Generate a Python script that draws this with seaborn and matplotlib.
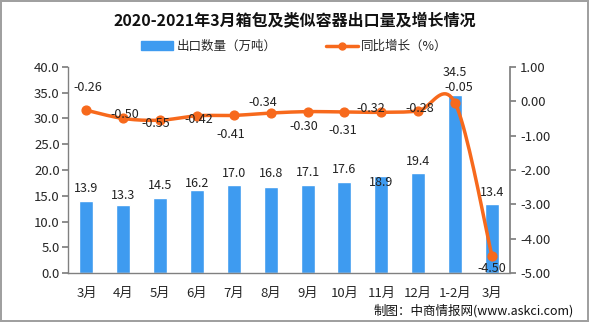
import numpy as np
import pandas as pd
import matplotlib
matplotlib.use("Agg")
import matplotlib.pyplot as plt
import seaborn as sns
from matplotlib.lines import Line2D
from matplotlib.patches import Patch

categories = ["3月", "4月", "5月", "6月", "7月", "8月", "9月", "10月", "11月", "12月", "1-2月", "3月"]
export_volume = [13.9, 13.3, 14.5, 16.2, 17.0, 16.8, 17.1, 17.6, 18.9, 19.4, 34.5, 13.4]
yoy_growth = [-0.26, -0.50, -0.55, -0.42, -0.41, -0.34, -0.30, -0.31, -0.32, -0.28, -0.05, -4.50]

sns.set_theme(style="white")
plt.rcParams['font.family'] = ['Noto Sans CJK SC', 'DejaVu Sans']

fig = plt.figure(figsize=(5.89, 3.22), dpi=100)
fig.patch.set_edgecolor("#a0a0a0")
fig.patch.set_linewidth(1.5)
ax = fig.add_axes([0.1155, 0.152, 0.751, 0.640])

x = np.arange(len(categories))
df = pd.DataFrame({"pos": x, "val": export_volume})
sns.barplot(data=df, x="pos", y="val", color="#3e9bf0", saturation=1, width=0.38, ax=ax, native_scale=True)
ax.set_xlim(-0.5, len(categories) - 0.5)
ax.set_ylim(0, 40)
ax.set_yticks(np.arange(0, 40.1, 5))
ax.set_yticklabels([f"{v:.1f}" for v in np.arange(0, 40.1, 5)], fontsize=9.5)
ax.set_xticks(x)
ax.set_xticklabels(categories, fontsize=9.5)
ax.set_xticks(np.arange(-0.5, len(categories), 1), minor=True)
ax.tick_params(axis="x", which="major", length=0, pad=10)
ax.tick_params(axis="x", which="minor", length=4, color="#808080", direction="out")
ax.tick_params(axis="y", length=4, color="#808080", direction="out", left=True, pad=2)
ax.set_xlabel("")
ax.set_ylabel("")
for s in ["top", "right"]:
    ax.spines[s].set_visible(False)
for s in ["left", "bottom"]:
    ax.spines[s].set_color("#808080")
    ax.spines[s].set_linewidth(1)

# bar value labels (offset in pixels above bar top)
bar_off_px = [13, 9, 13, 6, 12, 13, 12, 13, -7, 12, 23, 12]
for xi, v, off in zip(x, export_volume, bar_off_px):
    ax.annotate(f"{v:.1f}", (xi, v), xytext=(0, off * 0.72), textcoords="offset points",
                ha="center", va="center", fontsize=9, color="#222222", zorder=6)

ax2 = ax.twinx()
ax2.set_ylim(-5, 1)
yt = np.arange(-5, 1.01, 1)
ax2.set_yticks(yt)
ax2.set_yticklabels([f"{v:.2f}" for v in yt], fontsize=9.5)
ax2.tick_params(axis="y", length=4, color="#808080", direction="out", right=True, pad=3)
for s in ["top", "left", "bottom"]:
    ax2.spines[s].set_visible(False)
ax2.spines["right"].set_color("#808080")

# smooth curve (Catmull-Rom through data points)
xs, ys = [], []
pts = list(zip(x, yoy_growth))
for i in range(len(pts) - 1):
    p0 = pts[i - 1] if i > 0 else pts[i]
    p1 = pts[i]
    p2 = pts[i + 1]
    p3 = pts[i + 2] if i + 2 < len(pts) else pts[i + 1]
    for t in np.linspace(0, 1, 20, endpoint=False):
        t2, t3 = t * t, t * t * t
        for k, arr in ((0, xs), (1, ys)):
            a = 0.5 * ((2 * p1[k]) + (-p0[k] + p2[k]) * t +
                       (2 * p0[k] - 5 * p1[k] + 4 * p2[k] - p3[k]) * t2 +
                       (-p0[k] + 3 * p1[k] - 3 * p2[k] + p3[k]) * t3)
            arr.append(a)
xs.append(pts[-1][0]); ys.append(pts[-1][1])
sns.lineplot(x=xs, y=ys, color="#f7691c", linewidth=2.5, ax=ax2, sort=False, estimator=None)
ax2.scatter(x, yoy_growth, color="#f7691c", s=40, zorder=5)

# line value labels: offsets in pixels (dx, dy up)
line_off_px = [(1, 23), (1, 4), (-4, -3), (2, -4), (-3, -19), (-8, 11), (-4, -15), (-2, -19),
               (-11, 4), (2, 2), (4, 16), (0, -13)]
for xi, v, (dx, dy) in zip(x, yoy_growth, line_off_px):
    ax2.annotate(f"{v:.2f}", (xi, v), xytext=(dx * 0.72, dy * 0.72), textcoords="offset points",
                 ha="center", va="center", fontsize=9, color="#222222", zorder=7)

fig.text(0.5, 0.935, "2020-2021年3月箱包及类似容器出口量及增长情况", ha="center", va="center",
         fontsize=11.5, fontweight="bold", color="#111111")

h1 = Patch(color="#3e9bf0")
h2 = Line2D([0], [0], color="#f7691c", lw=2.5, marker="o", markersize=5)
fig.legend([h1, h2], ["出口数量（万吨）", "同比增长（%）"], loc="center", bbox_to_anchor=(0.5, 0.855),
           ncol=2, frameon=False, fontsize=9, handlelength=2.5, columnspacing=4, handletextpad=0.3)

fig.text(0.975, 0.035, "制图：中商情报网(www.askci.com)", ha="right", va="center", fontsize=9, color="#111111")

fig.savefig("out.png", dpi=100, edgecolor=fig.get_edgecolor())
